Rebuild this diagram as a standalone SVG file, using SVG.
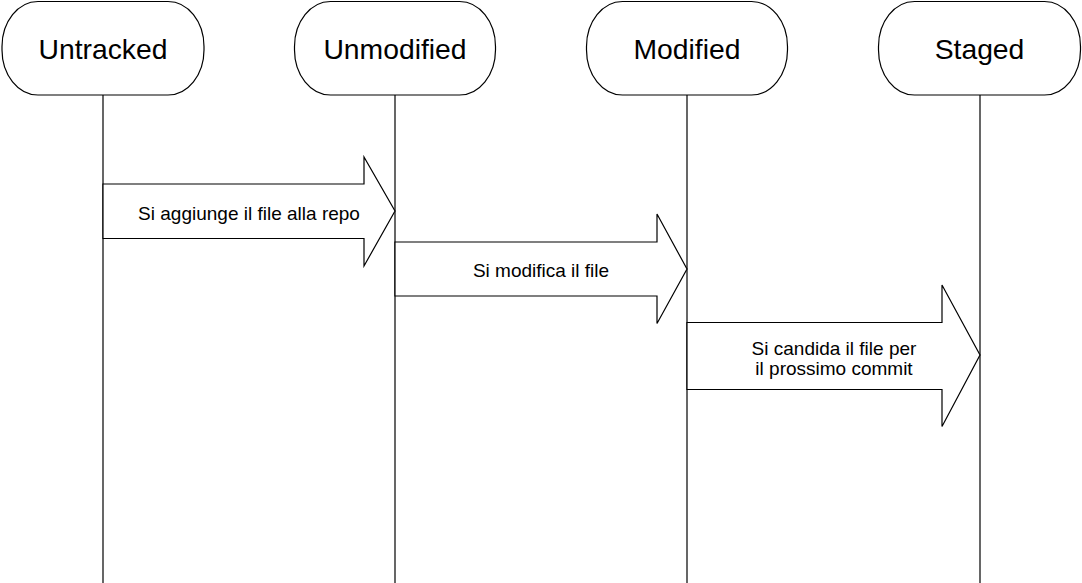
<svg xmlns="http://www.w3.org/2000/svg" width="1082" height="583" viewBox="0 0 1082 583">
<style>
.node{fill:#ffffff;stroke:#000000;stroke-width:1.2}
.life{stroke:#000000;stroke-width:1.2;fill:none}
.arrow{fill:#ffffff;stroke:#000000;stroke-width:1.2;stroke-linejoin:miter}
.nt{font-family:"Liberation Sans",Arial,sans-serif;font-size:28.3px;fill:#000000;text-anchor:middle}
.at{font-family:"Liberation Sans",Arial,sans-serif;font-size:19px;fill:#000000;text-anchor:middle}
</style>
<rect width="1082" height="583" fill="#ffffff"/>
<g id="lifelines">
<line class="life" x1="103" y1="95" x2="103" y2="583"/>
<line class="life" x1="395" y1="95" x2="395" y2="583"/>
<line class="life" x1="687" y1="95" x2="687" y2="583"/>
<line class="life" x1="980" y1="95" x2="980" y2="583"/>
</g>
<g id="node-untracked">
<rect class="node" x="2" y="1.5" width="202" height="93.5" rx="36" ry="45"/>
<text class="nt" x="103" y="58.5">Untracked</text>
</g>
<g id="node-unmodified">
<rect class="node" x="294.5" y="1.5" width="201" height="93.5" rx="36" ry="45"/>
<text class="nt" x="395" y="58.5">Unmodified</text>
</g>
<g id="node-modified">
<rect class="node" x="586.5" y="1.5" width="201" height="93.5" rx="36" ry="45"/>
<text class="nt" x="687" y="58.5">Modified</text>
</g>
<g id="node-staged">
<rect class="node" x="878.5" y="1.5" width="202" height="93.5" rx="36" ry="45"/>
<text class="nt" x="979.5" y="58.5">Staged</text>
</g>
<g id="connectors">
<g id="arrow-add">
<polygon class="arrow" points="103,184 364,184 364,157 395,211 364,266 364,238.5 103,238.5"/>
<text class="at" x="249" y="220">Si aggiunge il file alla repo</text>
</g>
<g id="arrow-modify">
<polygon class="arrow" points="395,242 657,242 657,214 687,269 657,323.5 657,296 395,296"/>
<text class="at" x="541" y="276.5">Si modifica il file</text>
</g>
<g id="arrow-stage">
<polygon class="arrow" points="687,322.5 942,322.5 942,285 980,355 942,426.5 942,389.5 687,389.5"/>
<text class="at" x="834" y="355">Si candida il file per</text>
<text class="at" x="834" y="375">il prossimo commit</text>
</g>
</g>
</svg>
